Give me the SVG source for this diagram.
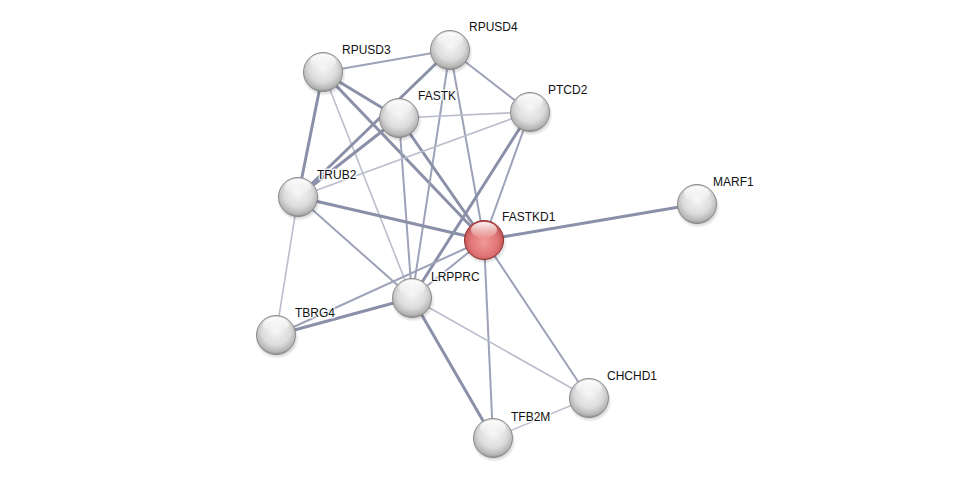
<svg xmlns="http://www.w3.org/2000/svg" width="975" height="484" viewBox="0 0 975 484">
<defs>
<radialGradient id="gBody" cx="50%" cy="40%" r="60%">
<stop offset="0" stop-color="#f6f6f6"/>
<stop offset="0.6" stop-color="#dcdcdc"/>
<stop offset="0.9" stop-color="#b4b4b4"/>
<stop offset="1" stop-color="#8a8a8a"/>
</radialGradient>
<radialGradient id="rBody" cx="50%" cy="55%" r="60%">
<stop offset="0" stop-color="#f29a9a"/>
<stop offset="0.6" stop-color="#e07474"/>
<stop offset="0.9" stop-color="#c05050"/>
<stop offset="1" stop-color="#902a2a"/>
</radialGradient>
<linearGradient id="hl" x1="0" y1="0" x2="0" y2="1">
<stop offset="0" stop-color="#ffffff" stop-opacity="0.95"/>
<stop offset="1" stop-color="#ffffff" stop-opacity="0.05"/>
</linearGradient>
<radialGradient id="shadow" cx="50%" cy="50%" r="50%">
<stop offset="0.7" stop-color="#000" stop-opacity="0.25"/>
<stop offset="1" stop-color="#000" stop-opacity="0"/>
</radialGradient>
</defs>
<style>
.e{fill:none;stroke-linecap:round}
.t{stroke:#8a90a8;stroke-width:3}
.m{stroke:#9da2b8;stroke-width:2}
.l{stroke:#b9bdcc;stroke-width:1.6}
.sh{fill:url(#shadow)}
.g{fill:url(#gBody);stroke:#8c8c8c;stroke-width:1}
.r{fill:url(#rBody);stroke:#8e2c2c;stroke-width:1}
.h{fill:url(#hl)}
text{font-family:"Liberation Sans",Arial,sans-serif;font-size:12px;fill:#111;stroke:#fff;stroke-width:3px;stroke-opacity:0.8;paint-order:stroke;stroke-linejoin:round}
</style>
<rect width="975" height="484" fill="#ffffff"/>
<g id="edges">
<line class="e m" x1="323" y1="72" x2="450" y2="50"/>
<line class="e t" x1="323" y1="72" x2="298" y2="197"/>
<line class="e t" x1="323" y1="72" x2="484" y2="240"/>
<line class="e t" x1="323" y1="72" x2="399" y2="118"/>
<line class="e l" x1="323" y1="72" x2="412" y2="298"/>
<line class="e m" x1="450" y1="50" x2="530" y2="112"/>
<line class="e t" x1="450" y1="50" x2="298" y2="197"/>
<line class="e m" x1="450" y1="50" x2="412" y2="298"/>
<line class="e m" x1="450" y1="50" x2="484" y2="240"/>
<line class="e l" x1="399" y1="118" x2="530" y2="112"/>
<line class="e t" x1="399" y1="118" x2="484" y2="240"/>
<line class="e m" x1="399" y1="118" x2="412" y2="298"/>
<line class="e t" x1="399" y1="118" x2="298" y2="197"/>
<line class="e l" x1="530" y1="112" x2="298" y2="197"/>
<line class="e t" x1="530" y1="112" x2="412" y2="298"/>
<line class="e m" x1="530" y1="112" x2="484" y2="240"/>
<line class="e t" x1="298" y1="197" x2="484" y2="240"/>
<line class="e m" x1="298" y1="197" x2="412" y2="298"/>
<line class="e l" x1="298" y1="197" x2="276" y2="335"/>
<line class="e t" x1="484" y1="240" x2="697" y2="204"/>
<line class="e m" x1="484" y1="240" x2="412" y2="298"/>
<line class="e m" x1="484" y1="240" x2="276" y2="335"/>
<line class="e m" x1="484" y1="240" x2="493" y2="438"/>
<line class="e m" x1="484" y1="240" x2="589" y2="398"/>
<line class="e t" x1="412" y1="298" x2="276" y2="335"/>
<line class="e t" x1="412" y1="298" x2="493" y2="438"/>
<line class="e l" x1="412" y1="298" x2="589" y2="398"/>
<line class="e l" x1="493" y1="438" x2="589" y2="398"/>
</g>
<g id="node-RPUSD4"><ellipse class="sh" cx="451" cy="53" rx="22" ry="21"/><circle class="g" cx="450" cy="50" r="19.5"/><ellipse class="h" cx="450" cy="40" rx="13" ry="8"/><text x="469" y="31">RPUSD4</text></g>
<g id="node-RPUSD3"><ellipse class="sh" cx="324" cy="75" rx="22" ry="21"/><circle class="g" cx="323" cy="72" r="19.5"/><ellipse class="h" cx="323" cy="62" rx="13" ry="8"/><text x="342" y="54">RPUSD3</text></g>
<g id="node-FASTK"><ellipse class="sh" cx="400" cy="121" rx="22" ry="21"/><circle class="g" cx="399" cy="118" r="19.5"/><ellipse class="h" cx="399" cy="108" rx="13" ry="8"/><text x="418" y="100">FASTK</text></g>
<g id="node-PTCD2"><ellipse class="sh" cx="531" cy="115" rx="22" ry="21"/><circle class="g" cx="530" cy="112" r="19.5"/><ellipse class="h" cx="530" cy="102" rx="13" ry="8"/><text x="548" y="94">PTCD2</text></g>
<g id="node-TRUB2"><ellipse class="sh" cx="299" cy="200" rx="22" ry="21"/><circle class="g" cx="298" cy="197" r="19.5"/><ellipse class="h" cx="298" cy="187" rx="13" ry="8"/><text x="317" y="179">TRUB2</text></g>
<g id="node-MARF1"><ellipse class="sh" cx="698" cy="207" rx="22" ry="21"/><circle class="g" cx="697" cy="204" r="19.5"/><ellipse class="h" cx="697" cy="194" rx="13" ry="8"/><text x="713" y="186">MARF1</text></g>
<g id="node-FASTKD1"><ellipse class="sh" cx="485" cy="243" rx="22" ry="21"/><circle class="r" cx="484" cy="240" r="19.5"/><ellipse class="h" cx="484" cy="230" rx="13" ry="8"/><text x="502" y="221">FASTKD1</text></g>
<g id="node-LRPPRC"><ellipse class="sh" cx="413" cy="301" rx="22" ry="21"/><circle class="g" cx="412" cy="298" r="19.5"/><ellipse class="h" cx="412" cy="288" rx="13" ry="8"/><text x="431" y="281">LRPPRC</text></g>
<g id="node-TBRG4"><ellipse class="sh" cx="277" cy="338" rx="22" ry="21"/><circle class="g" cx="276" cy="335" r="19.5"/><ellipse class="h" cx="276" cy="325" rx="13" ry="8"/><text x="295" y="317">TBRG4</text></g>
<g id="node-CHCHD1"><ellipse class="sh" cx="590" cy="401" rx="22" ry="21"/><circle class="g" cx="589" cy="398" r="19.5"/><ellipse class="h" cx="589" cy="388" rx="13" ry="8"/><text x="607" y="380">CHCHD1</text></g>
<g id="node-TFB2M"><ellipse class="sh" cx="494" cy="441" rx="22" ry="21"/><circle class="g" cx="493" cy="438" r="19.5"/><ellipse class="h" cx="493" cy="428" rx="13" ry="8"/><text x="511" y="421">TFB2M</text></g>
</svg>
